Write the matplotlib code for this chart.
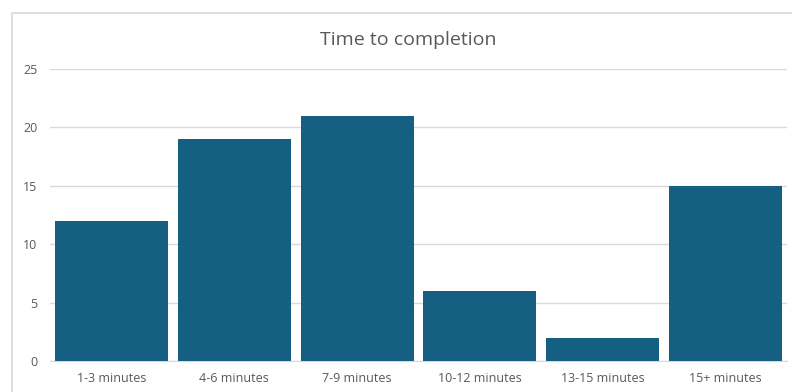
import matplotlib
matplotlib.use("Agg")
import matplotlib.pyplot as plt
import numpy as np
from matplotlib.patches import Rectangle

categories = ["1-3 minutes", "4-6 minutes", "7-9 minutes", "10-12 minutes", "13-15 minutes", "15+ minutes"]
counts = [12, 19, 21, 6, 2, 15]
yticks = [0, 5, 10, 15, 20, 25]

plt.rcParams["font.family"] = ["Open Sans", "DejaVu Sans"]

fig = plt.figure(figsize=(7.92, 3.92), dpi=100)
ax = fig.add_axes([50 / 792, 1 - 361 / 392, 737 / 792, 292 / 392])

# light outer chart border (cropped at right and bottom)
fig.patches.append(Rectangle((12 / 792, -0.1), 1.1, 1 - 13 / 392 + 0.1,
                             transform=fig.transFigure, fill=False,
                             edgecolor="#d9d9d9", linewidth=1.2))

x = np.arange(len(categories))
ax.bar(x, counts, width=0.92, color="#156082", zorder=3)

ax.set_xlim(-0.5, len(categories) - 0.5)
ax.set_ylim(0, 25)
ax.set_yticks(yticks)
ax.set_xticks(x)
ax.set_xticklabels(categories)
ax.grid(axis="y", color="#d9d9d9", linewidth=1, zorder=0)
for side in ["top", "right", "left"]:
    ax.spines[side].set_visible(False)
ax.spines["bottom"].set_color("#d9d9d9")
ax.tick_params(length=0, colors="#595959", labelsize=9)
ax.tick_params(axis="y", pad=9)
ax.tick_params(axis="x", pad=8)

fig.text(408 / 792, 1 - 40 / 392, "Time to completion", ha="center", va="center",
         fontsize=14, color="#595959")

fig.savefig("out.png", dpi=100)
